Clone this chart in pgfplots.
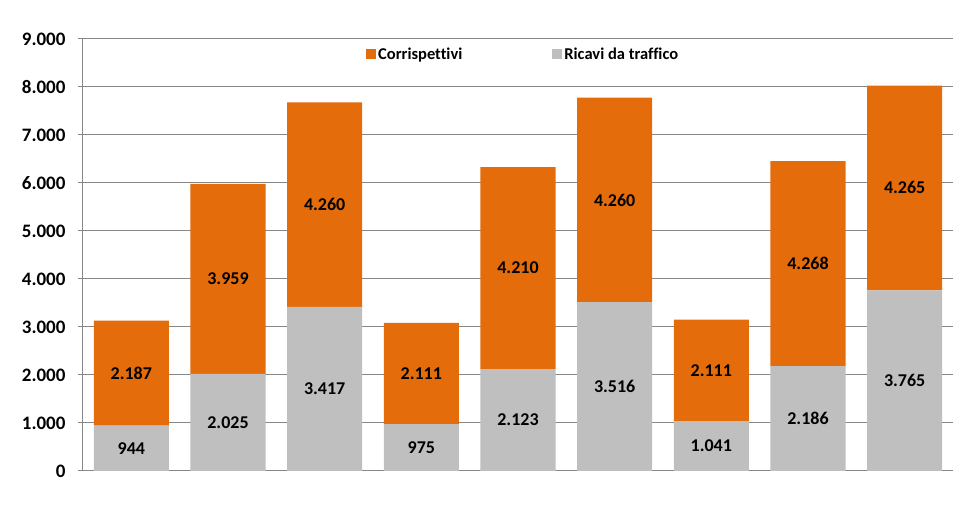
\documentclass[border=0pt]{standalone}
\usepackage{pgfplots}
\pgfplotsset{compat=1.18}
\usepackage{pgfplotstable}
\usepackage{fontspec}
\setmainfont[Ligatures=NoCommon]{Carlito}
\definecolor{corr}{HTML}{E46C0A}
\definecolor{ricavi}{HTML}{BFBFBF}
\definecolor{gridc}{HTML}{868686}

\pgfplotstableread{
x ricavi corr
0 944 2187
1 2025 3959
2 3417 4260
3 975 2111
4 2123 4210
5 3516 4260
6 1041 2111
7 2186 4268
8 3765 4265
}\dati

\begin{document}
\begin{tikzpicture}
\begin{axis}[
  scale only axis,
  width=870pt, height=432pt,
  ybar stacked,
  bar width=0.776,
  xmin=-0.5, xmax=8.5,
  ymin=0, ymax=9000,
  ytick distance=1000,
  xtick=\empty,
  axis x line=none,
  axis y line=left,
  axis line style={-, draw=gridc, line width=1pt},
  ymajorgrids,
  grid style={draw=gridc, line width=1pt},
  tick align=outside,
  major tick length=5pt,
  tick style={draw=gridc, line width=1pt},
  scaled y ticks=false,
  /pgf/number format/1000 sep={.},
  /pgf/number format/assume math mode=true,
  yticklabel style={font=\fontsize{19}{22}\selectfont\bfseries, xshift=-9pt},
  nodes near coords,
  point meta=explicit,
  % with anchor=center the labels sit in the middle of each segment
  every node near coord/.append style={anchor=center, text=black,
    font=\fontsize{18}{21}\selectfont\bfseries},
  legend style={at={(0.506,0.965)}, anchor=center, draw=none, fill=none,
    font=\fontsize{16.5}{19}\selectfont\bfseries, legend columns=2,
    /tikz/every even column/.append style={column sep=88pt}},
  legend image code/.code={\fill[#1] (0pt,-5pt) rectangle (10pt,5pt);},
  reverse legend,
]
\addplot[fill=ricavi, draw=none]
  table[x=x, y=ricavi, meta=ricavi] {\dati};
\addlegendentry{Ricavi da traffico}
\addplot[fill=corr, draw=none]
  table[x=x, y=corr, meta=corr] {\dati};
\addlegendentry{Corrispettivi}
\end{axis}
\path[use as bounding box] (-83pt,-39pt) rectangle (875pt,471pt);
\end{tikzpicture}
\end{document}
